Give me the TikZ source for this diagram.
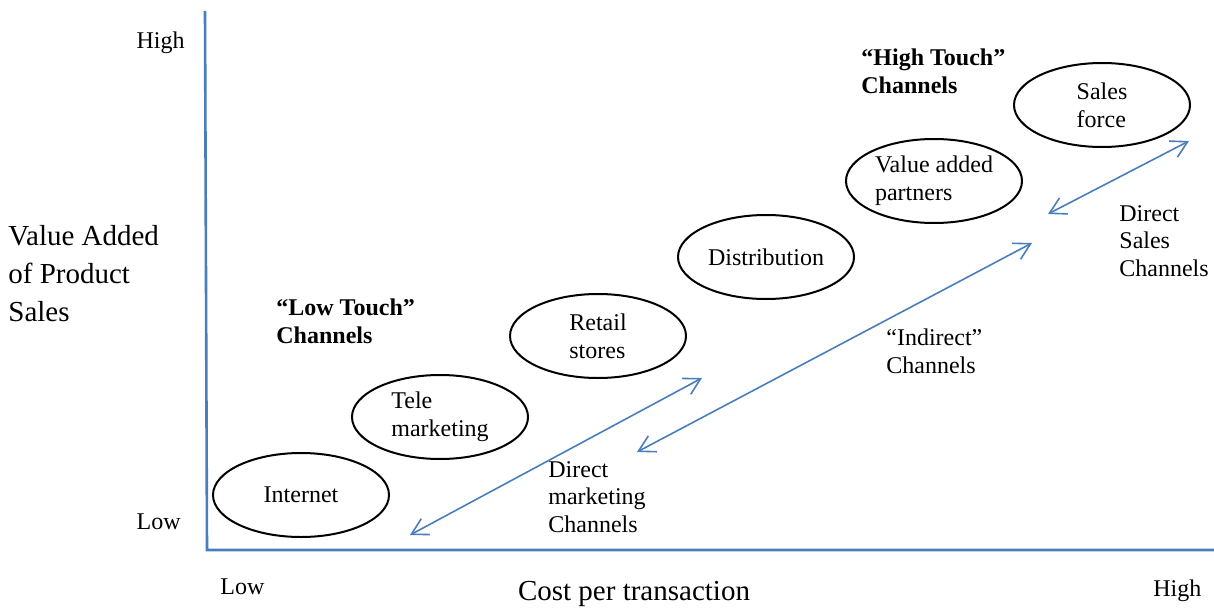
\documentclass[tikz,border=0pt]{standalone}
\usepackage{fontspec}
\setmainfont{Liberation Serif}
\usepackage{tikz}
\usetikzlibrary{positioning}
\usetikzlibrary{arrows.meta,shapes.geometric}
\definecolor{axisblue}{RGB}{74,126,187}

\begin{document}
\begin{tikzpicture}
    [x=0.5pt, y=-0.5pt,
    axis/.style={axisblue,
                 line width=1.3pt},
    dbl/.style={{Straight Barb[length=8pt,width=9pt]}-{Straight Barb[length=8pt,width=9pt]},
                axisblue,
                line width=0.8pt},
    chan/.style={ellipse,
                 draw,
                 line width=1pt,
                 inner sep=0pt,
                 minimum width=88pt,
                 minimum height=42pt,
                 align=left,
                 font=\fontsize{12}{14}\selectfont},
    lbl/.style={inner sep=0pt,
                align=left,
                font=\fontsize{12}{13.8}\selectfont},
    bold/.style={lbl,
                 font=\fontsize{12}{13.8}\selectfont\bfseries},
    big/.style={inner sep=0pt,
                align=left,
                font=\fontsize{14.5}{19}\selectfont}]
    \useasboundingbox (0,0) rectangle (1214,610);
    % axes
    \coordinate (ytop) at (205,11);
    \coordinate (origin) at (207,550);
    \coordinate (xend) at (1214,550);
    \draw[axis] (ytop) -- (origin) -- (xend);
    % axis labels
    \node[lbl, anchor=east] (yhigh) at (185,43) {High};
    \node[lbl, anchor=east] (ylow) at (181,522) {Low};
    \node[lbl, anchor=west] (xlow) at (220,587) {Low};
    \node[lbl, anchor=west] (xhigh) at (1153,591) {High};
    \node[big, anchor=west] (ytitle) at (8,274) {Value Added\\of Product\\Sales};
    \node[big] (xtitle) at (634,594) {Cost per transaction};
    % channels
    \node[chan] (internet) at (301,495) {Internet};
    \node[chan] (tele) at (440,417) {Tele\\marketing};
    \node[chan] (retail) at (598,336) {Retail\\stores};
    \node[chan] (distrib) at (766,257) {Distribution};
    \node[chan] (partners) at (934,181) {Value added\\partners};
    \node[chan] (salesforce) at (1102,105) {Sales\\force};
    % groups
    \node[bold, anchor=west] (lowtouch) at (276,321) {``Low Touch''\\Channels};
    \node[bold, anchor=west] (hightouch) at (861,71) {``High Touch''\\Channels};
    % arrows
    \coordinate (dm-a) at (410,535);
    \coordinate (dm-b) at (702,378);
    \coordinate (ind-a) at (637,452);
    \coordinate (ind-b) at (1032,243);
    \coordinate (ds-a) at (1048,214);
    \coordinate (ds-b) at (1189,141);
    \draw[dbl] (dm-a) -- (dm-b);
    \draw[dbl] (ind-a) -- (ind-b);
    \draw[dbl] (ds-a) -- (ds-b);
    \node[lbl, anchor=west] (dmlbl) at (548,497) {Direct\\marketing\\Channels};
    \node[lbl, anchor=west] (indlbl) at (886,351) {``Indirect''\\Channels};
    \node[lbl, anchor=west] (dslbl) at (1119,241) {Direct\\Sales\\Channels};
\end{tikzpicture}
\end{document}
